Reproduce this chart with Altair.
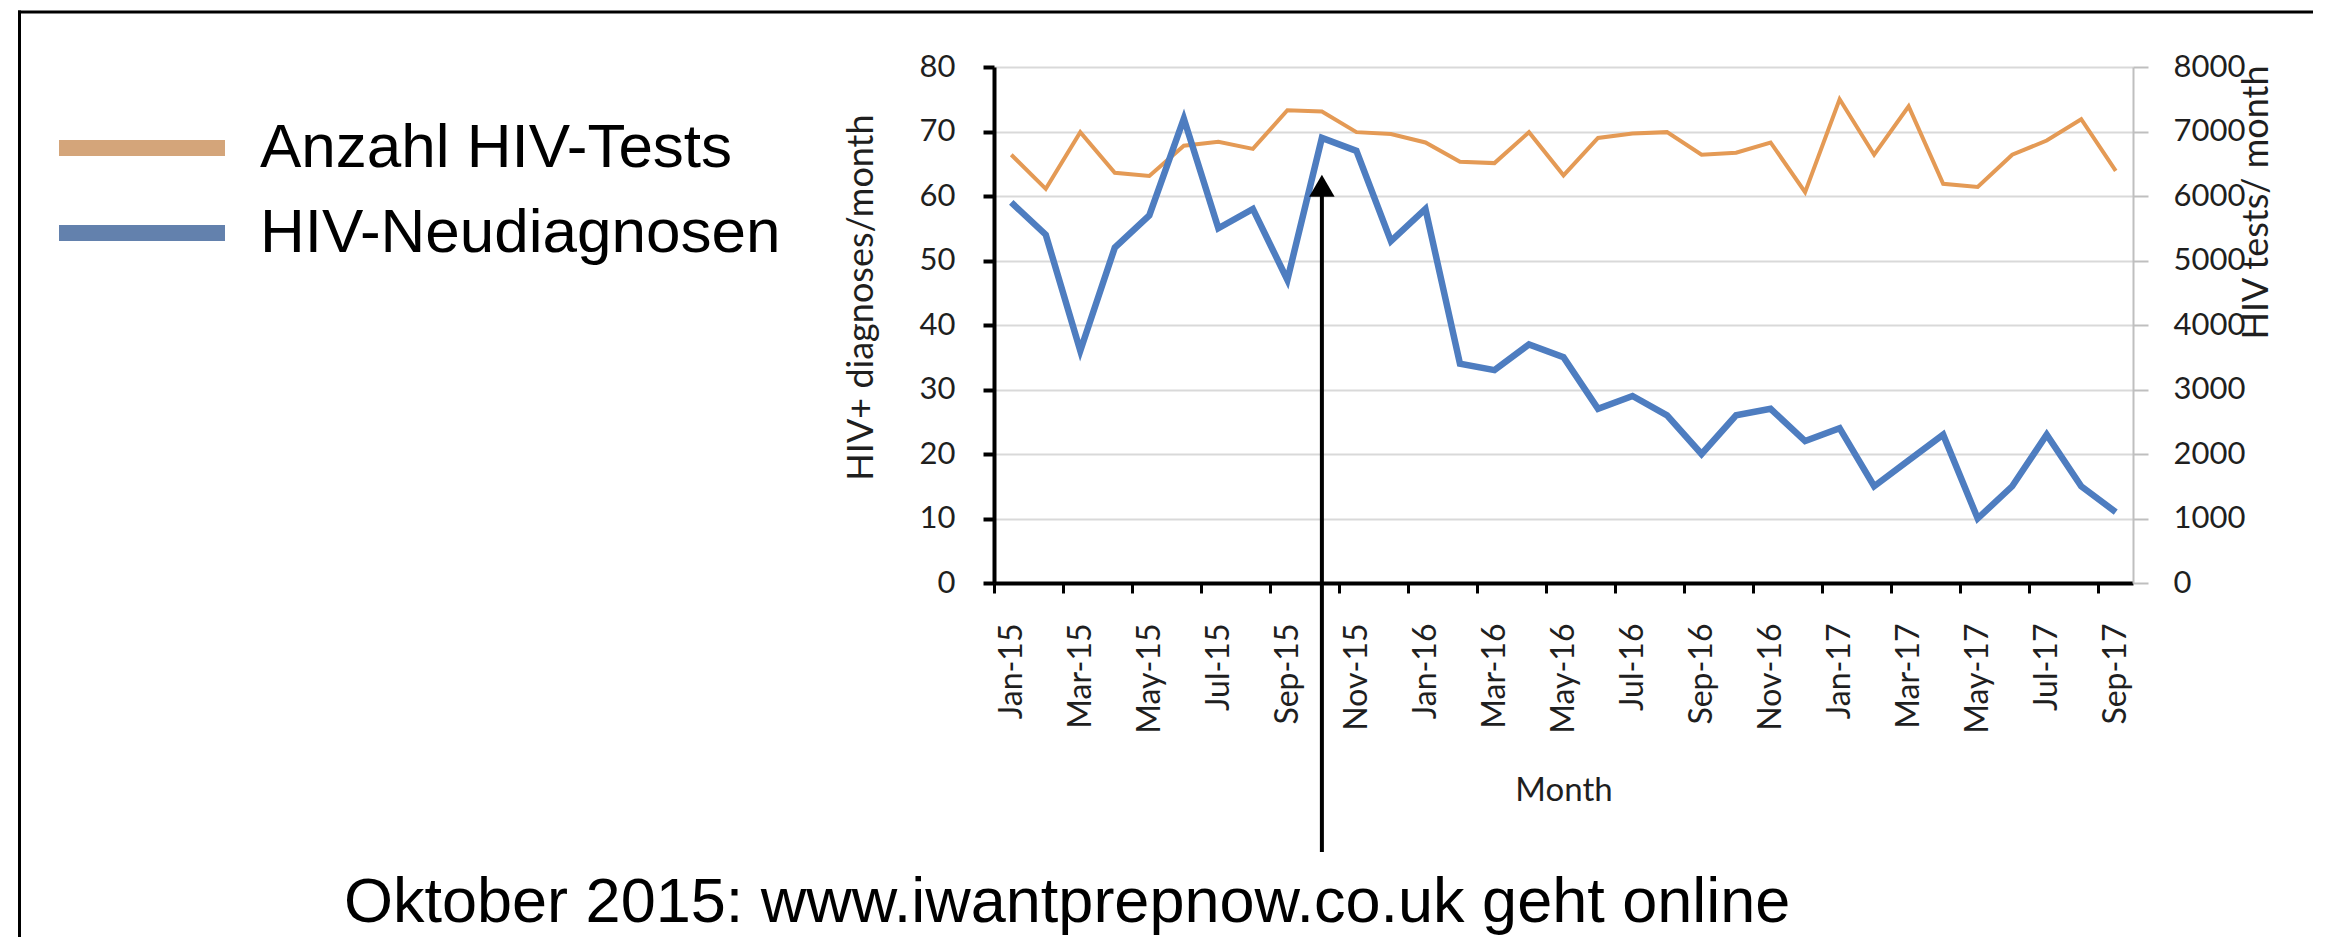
import json
import altair as alt
import pandas as pd

# ---------------- data ----------------
months = ["Jan-15", "Feb-15", "Mar-15", "Apr-15", "May-15", "Jun-15", "Jul-15", "Aug-15",
          "Sep-15", "Oct-15", "Nov-15", "Dec-15", "Jan-16", "Feb-16", "Mar-16", "Apr-16",
          "May-16", "Jun-16", "Jul-16", "Aug-16", "Sep-16", "Oct-16", "Nov-16", "Dec-16",
          "Jan-17", "Feb-17", "Mar-17", "Apr-17", "May-17", "Jun-17", "Jul-17", "Aug-17",
          "Sep-17"]
diagnoses = [59, 54, 36, 52, 57, 72, 55, 58, 47, 69, 67, 53,
             58, 34, 33, 37, 35, 27, 29, 26, 20, 26, 27, 22,
             24, 15, 19, 23, 10, 15, 23, 15, 11]
tests = [6640, 6110, 6990, 6360, 6310, 6780, 6840, 6730, 7330, 7310, 6990, 6960,
         6830, 6530, 6510, 6990, 6320, 6900, 6970, 6990, 6640, 6670, 6830, 6060,
         7500, 6640, 7390, 6190, 6140, 6640, 6860, 7190, 6390]
series_names = ["Anzahl HIV-Tests", "HIV-Neudiagnosen"]
line_colors = ["#E49A55", "#4E7DC0"]
legend_colors = ["#D4A57A", "#6381AD"]
left_ticks = [0, 10, 20, 30, 40, 50, 60, 70, 80]
right_ticks = [0, 1000, 2000, 3000, 4000, 5000, 6000, 7000, 8000]
event_month = "Oct-15"
event_tip = [61.6]
annotation = ["Oktober 2015: www.iwantprepnow.co.uk geht online"]

# ---------------- layout ----------------
W, H = 1139, 516
band = W / len(months)
LBL = "Lato"
TXT = "#1f1f1f"

df = pd.DataFrame({"month": months, "idx": list(range(len(months))),
                   "diag": diagnoses, "tests": tests})
event_df = pd.DataFrame({"idx": [months.index(event_month)], "diag": event_tip,
                         "label": annotation})
legend_df = pd.DataFrame({"series": series_names})
one = pd.DataFrame({"k": [0]})

x_axis = alt.Axis(
    values=list(range(0, len(months), 2)),
    labelExpr=json.dumps(months) + "[round(datum.value)]",
    labelAngle=270, labelAlign="right", labelBaseline="middle",
    labelOffset=band / 2, labelPadding=30, labelFlush=False, labelOverlap=False,
    labelFont=LBL, labelFontSize=32, labelColor=TXT,
    tickSize=10, tickWidth=3, tickColor="black",
    domainColor="black", domainWidth=4, grid=False,
    title="Month", titleFont=LBL, titleFontSize=33, titleFontWeight="normal",
    titleColor=TXT, titleY=207, titleBaseline="middle",
)
x_enc = alt.X("pos:Q", scale=alt.Scale(domain=[0, len(months)], nice=False, zero=False),
              axis=x_axis)

left_axis = alt.Axis(
    values=left_ticks, orient="left", format="d",
    labelFont=LBL, labelFontSize=31, labelColor=TXT, labelPadding=28,
    tickSize=11, tickWidth=4, tickColor="black",
    domainColor="black", domainWidth=4,
    grid=True, gridColor="#D9D9D9", gridWidth=2,
    title="HIV+ diagnoses/month", titleAngle=270, titleX=-133, titleY=230,
    titleAlign="center", titleBaseline="middle",
    titleFont=LBL, titleFontSize=36, titleFontWeight="normal", titleColor=TXT,
)
right_axis = alt.Axis(
    values=right_ticks, orient="right", format="d",
    labelFont=LBL, labelFontSize=31, labelColor=TXT, labelPadding=25,
    tickSize=15, tickWidth=2, tickColor="#BFBFBF",
    domainColor="#BFBFBF", domainWidth=2, grid=False,
    title="HIV tests/ month", titleAngle=270, titleX=123, titleY=135,
    titleAlign="center", titleBaseline="middle",
    titleFont=LBL, titleFontSize=36, titleFontWeight="normal", titleColor=TXT,
)

base = alt.Chart(df).transform_calculate(pos="datum.idx + 0.5")

orange = base.mark_line(color=line_colors[0], strokeWidth=4).encode(
    x=x_enc,
    y=alt.Y("tests:Q", scale=alt.Scale(domain=[0, 8000], nice=False), axis=right_axis),
)
blue = base.mark_line(color=line_colors[1], strokeWidth=6.5).encode(
    x=x_enc,
    y=alt.Y("diag:Q", scale=alt.Scale(domain=[0, 80], nice=False), axis=left_axis),
)

ev = alt.Chart(event_df).transform_calculate(pos="datum.idx + 0.5")
arrow_rule = ev.mark_rule(color="black", strokeWidth=4).encode(
    x="pos:Q", y="diag:Q", y2=alt.value(785))
arrow_head = ev.mark_point(shape="triangle-up", filled=True, size=650,
                           color="black", opacity=1).encode(x="pos:Q", y="diag:Q")
note = ev.mark_text(font="Liberation Sans", fontSize=63, color="black",
                    align="left", baseline="alphabetic").encode(
    x=alt.value(-650), y=alt.value(855), text="label:N")

inner = alt.layer(blue, arrow_rule, arrow_head, note)

# legend (drawn as a keyed list, rows placed by a point scale)
leg_y = alt.Y("series:N", scale=alt.Scale(type="point", domain=series_names,
                                           range=[81, 166], padding=0), axis=None)
leg_color = alt.Color("series:N", scale=alt.Scale(domain=series_names, range=legend_colors),
                      legend=None)
leg_lines = alt.Chart(legend_df).mark_rule(strokeWidth=16, strokeCap="butt").encode(
    x=alt.value(-935), x2=alt.value(-769), y=leg_y, color=leg_color)
leg_text = alt.Chart(legend_df).mark_text(
    font="Liberation Sans", fontSize=62, color="black", align="left", baseline="middle"
).encode(x=alt.value(-734), y=leg_y, text="series:N")
legend_layer = alt.layer(leg_lines, leg_text)

frame_left = alt.Chart(one).mark_rule(color="black", strokeWidth=3).encode(
    x=alt.value(-974.5), y=alt.value(-56.5), y2=alt.value(880))
frame_top = alt.Chart(one).mark_rule(color="black", strokeWidth=3).encode(
    x=alt.value(-976), x2=alt.value(1330), y=alt.value(-55))

chart = alt.layer(frame_left, frame_top, orange, inner, legend_layer).resolve_scale(
    y="independent"
).properties(
    width=W, height=H,
    padding={"left": 986, "top": 59, "right": 180, "bottom": 354},
    autosize=alt.AutoSizeParams(type="none"),
    background="white",
).configure_view(stroke=None)

chart.save("out.html", embed_options={"renderer": "svg", "actions": False})
